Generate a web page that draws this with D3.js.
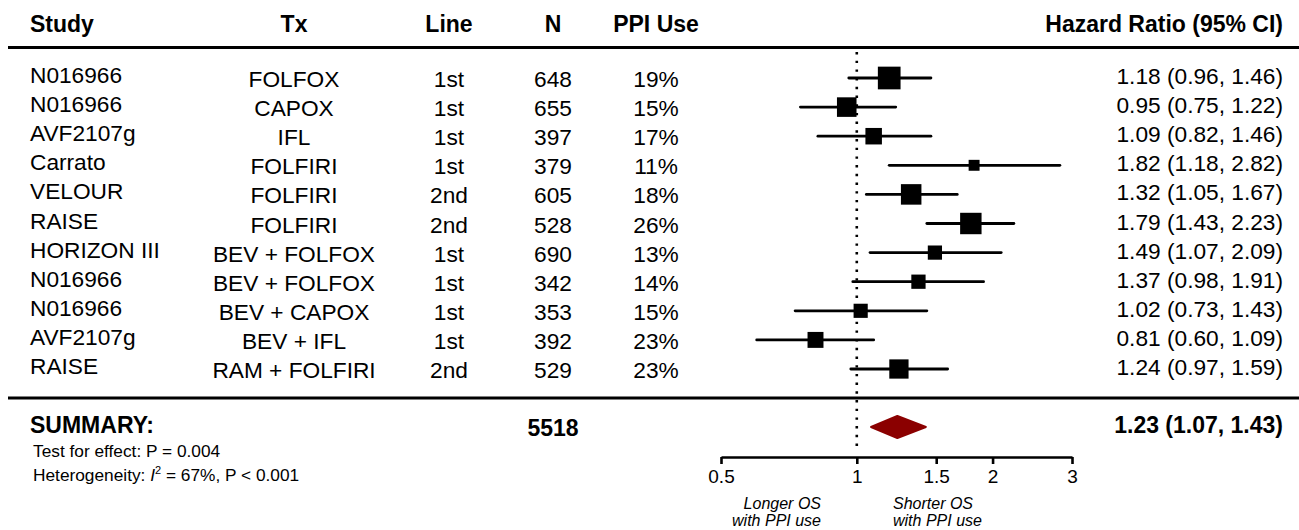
<!DOCTYPE html>
<html>
<head>
<meta charset="utf-8">
<script src="https://cdn.jsdelivr.net/npm/d3@7"></script>
<style>
  html, body { margin: 0; padding: 0; background: #fff; }
  svg { display: block; font-family: "Liberation Sans", Arial, sans-serif; }
</style>
</head>
<body>
<svg id="chart" width="1299" height="530"></svg>
<script>
// ---- data ----
const studies = ["N016966","N016966","AVF2107g","Carrato","VELOUR","RAISE","HORIZON III","N016966","N016966","AVF2107g","RAISE"];
const treatments = ["FOLFOX","CAPOX","IFL","FOLFIRI","FOLFIRI","FOLFIRI","BEV + FOLFOX","BEV + FOLFOX","BEV + CAPOX","BEV + IFL","RAM + FOLFIRI"];
const therapyLines = ["1st","1st","1st","1st","2nd","2nd","1st","1st","1st","1st","2nd"];
const sampleSizes = [648,655,397,379,605,528,690,342,353,392,529];
const ppiUse = [19,15,17,11,18,26,13,14,15,23,23];
const hazardRatios = [1.18,0.95,1.09,1.82,1.32,1.79,1.49,1.37,1.02,0.81,1.24];
const lowerCI = [0.96,0.75,0.82,1.18,1.05,1.43,1.07,0.98,0.73,0.60,0.97];
const upperCI = [1.46,1.22,1.46,2.82,1.67,2.23,2.09,1.91,1.43,1.09,1.59];
const summaryHR = 1.23, summaryLower = 1.07, summaryUpper = 1.43, summaryN = 5518;
const headers = ["Study","Tx","Line","N","PPI Use","Hazard Ratio (95% CI)"];
const axisTicks = [0.5, 1, 1.5, 2, 3];
const testEffect = "Test for effect: P = 0.004";
const directionLeft = ["Longer OS","with PPI use"];
const directionRight = ["Shorter OS","with PPI use"];

const svg = d3.select("#chart");
const W = 1299;
const fmt2 = d3.format(".2f");

const rows = d3.range(studies.length);
const y = d3.scalePoint().domain(rows).range([78, 369]);
const x = d3.scaleLog().domain([0.5, 3]).range([721, 1072]);

// box size from precision (1 / log CI width)
const precision = rows.map(i => 1 / Math.log(upperCI[i] / lowerCI[i]));
const boxScale = d3.scaleLinear().domain([0, d3.max(precision)]).range([0, 22.7]);

const col = { study: 30, tx: 294, line: 449, n: 553, ppi: 656, hr: 1283 };
const FS = 22.7, HFS = 23;

// headers
const hdr = svg.append("g").attr("font-size", HFS).attr("font-weight", "bold").attr("fill", "#000");
hdr.append("text").attr("x", col.study).attr("y", 32).text(headers[0]);
hdr.append("text").attr("x", col.tx).attr("y", 32).attr("text-anchor", "middle").text(headers[1]);
hdr.append("text").attr("x", col.line).attr("y", 32).attr("text-anchor", "middle").text(headers[2]);
hdr.append("text").attr("x", col.n).attr("y", 32).attr("text-anchor", "middle").text(headers[3]);
hdr.append("text").attr("x", col.ppi).attr("y", 32).attr("text-anchor", "middle").text(headers[4]);
hdr.append("text").attr("x", col.hr).attr("y", 32).attr("text-anchor", "end").text(headers[5]);

// rule lines
svg.append("line").attr("x1", 8).attr("x2", W).attr("y1", 47.5).attr("y2", 47.5)
  .attr("stroke", "#000").attr("stroke-width", 3);
svg.append("line").attr("x1", 8).attr("x2", W).attr("y1", 398).attr("y2", 398)
  .attr("stroke", "#000").attr("stroke-width", 3);

// reference line
svg.append("line").attr("x1", x(1)).attr("x2", x(1)).attr("y1", 52).attr("y2", 450)
  .attr("stroke", "#000").attr("stroke-width", 2.6).attr("stroke-dasharray", "2.4 6.3");

// table rows
const body = svg.append("g").attr("font-size", FS).attr("fill", "#000");
rows.forEach(i => {
  const yy = y(i);
  body.append("text").attr("x", col.study).attr("y", yy + 5).text(studies[i]);
  body.append("text").attr("x", col.tx).attr("y", yy + 9).attr("text-anchor", "middle").text(treatments[i]);
  body.append("text").attr("x", col.line).attr("y", yy + 9).attr("text-anchor", "middle").text(therapyLines[i]);
  body.append("text").attr("x", col.n).attr("y", yy + 9).attr("text-anchor", "middle").text(sampleSizes[i]);
  body.append("text").attr("x", col.ppi).attr("y", yy + 9).attr("text-anchor", "middle").text(ppiUse[i] + "%");
  body.append("text").attr("x", col.hr).attr("y", yy + 6).attr("text-anchor", "end")
    .text(`${fmt2(hazardRatios[i])} (${fmt2(lowerCI[i])}, ${fmt2(upperCI[i])})`);
});

// CI lines and boxes
const marks = svg.append("g");
marks.selectAll("line.ci").data(rows).join("line").attr("class", "ci")
  .attr("x1", i => x(lowerCI[i])).attr("x2", i => x(upperCI[i]))
  .attr("y1", i => y(i)).attr("y2", i => y(i))
  .attr("stroke", "#000").attr("stroke-width", 2.8).attr("stroke-linecap", "round");
marks.selectAll("rect.box").data(rows).join("rect").attr("class", "box")
  .attr("x", i => x(hazardRatios[i]) - boxScale(precision[i]) / 2)
  .attr("y", i => y(i) - boxScale(precision[i]) / 2)
  .attr("width", i => boxScale(precision[i]))
  .attr("height", i => boxScale(precision[i]))
  .attr("fill", "#000");

// summary row
const yS = 427;
svg.append("text").attr("x", col.study).attr("y", 433).attr("font-size", HFS).attr("font-weight", "bold").text("SUMMARY:");
svg.append("text").attr("x", col.n).attr("y", 436).attr("font-size", HFS).attr("font-weight", "bold")
  .attr("text-anchor", "middle").text(summaryN);
svg.append("text").attr("x", col.hr).attr("y", 433).attr("font-size", HFS).attr("font-weight", "bold")
  .attr("text-anchor", "end").text(`${fmt2(summaryHR)} (${fmt2(summaryLower)}, ${fmt2(summaryUpper)})`);
svg.append("polygon")
  .attr("points", [[x(summaryLower) + 1, yS], [x(summaryHR), yS - 11], [x(summaryUpper) - 1, yS], [x(summaryHR), yS + 11]].map(p => p.join(",")).join(" "))
  .attr("fill", "#8B0000").attr("stroke", "#8B0000").attr("stroke-width", 2).attr("stroke-linejoin", "round");

svg.append("text").attr("x", 33).attr("y", 457).attr("font-size", 17.3).text(testEffect);
const het = svg.append("text").attr("x", 33).attr("y", 481).attr("font-size", 17.3);
het.append("tspan").text("Heterogeneity: ");
het.append("tspan").attr("font-style", "italic").text("I");
het.append("tspan").attr("font-size", 11).attr("dy", -7).text("2");
het.append("tspan").attr("dy", 7).text(" = 67%, P < 0.001");

// axis
const axisG = svg.append("g").attr("transform", "translate(0,457)")
  .call(d3.axisBottom(x).tickValues(axisTicks).tickFormat(d => String(d)).tickSize(7).tickSizeOuter(0).tickPadding(6));
axisG.select(".domain").attr("stroke-width", 2.6);
axisG.selectAll(".tick line").attr("stroke-width", 2.6);
axisG.selectAll(".tick text").attr("font-size", 19).attr("fill", "#000")
  .attr("font-family", "'Liberation Sans', Arial, sans-serif");

// direction labels
const dl = svg.append("g").attr("font-size", 16).attr("font-style", "italic");
dl.append("text").attr("x", 821).attr("y", 509).attr("text-anchor", "end").text(directionLeft[0]);
dl.append("text").attr("x", 821).attr("y", 526).attr("text-anchor", "end").text(directionLeft[1]);
dl.append("text").attr("x", 893).attr("y", 509).text(directionRight[0]);
dl.append("text").attr("x", 893).attr("y", 526).text(directionRight[1]);
</script>
</body>
</html>
